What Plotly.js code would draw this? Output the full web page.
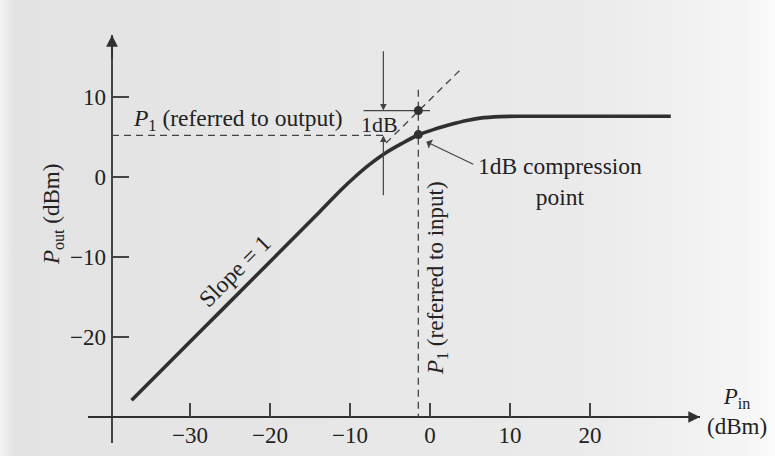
<!DOCTYPE html>
<html>
<head>
<meta charset="utf-8">
<script src="https://cdn.plot.ly/plotly-3.0.1.min.js"></script>
<style>
  html, body { margin: 0; padding: 0; }
  body {
    width: 775px; height: 456px; overflow: hidden;
    background: linear-gradient(to right, #f4f4f4 0px, #e3e3e3 14px, #e6e6e6 300px, #ebebeb 600px, #f5f5f5 745px, #fbfbfb 775px);
  }
  #chart { width: 775px; height: 456px; }
</style>
</head>
<body>
<div id="chart"></div>
<script>
// ---- data ----
const pinValues  = [-37.3, -28.5, -20, -13.75, -11.0, -9.4, -7.7, -5.8, -3.5, -1.46, 0.5, 2.9, 4.6, 6.25, 8.75, 12, 30.1];
const poutValues = [-27.9, -19.1, -10.6, -4.3, -1.5, 0.0, 1.45, 2.85, 4.2, 5.25, 5.95, 6.65, 7.07, 7.36, 7.55, 7.6, 7.6];

const extrapX = [-5.5, 4.0];       // dashed ideal (slope = 1) extension
const extrapY = [4.25, 13.6];

const p1In = -1.46;               // P1 referred to input (dBm)
const p1Out = 5.3;                // P1 referred to output (dBm)
const idealAtP1 = 8.3;            // extrapolated output at P1
const dbMarkerX = -5.83;          // position of the 1dB dimension arrows

const xTickVals = [-30, -20, -10, 0, 10, 20];
const yTickVals = [-20, -10, 0, 10];

const xAxisCross = -30;           // horizontal axis drawn at Pout = -30
const yAxisCross = -39.75;        // vertical axis drawn at Pin = -39.75
const xAxisSpan = [-42.75, 33.75];
const yAxisSpan = [-33.25, 17.75];

// ---- layout constants ----
const xRange = [-44, 36];
const yRange = [-34.5, 19];
const ink = '#303030';
const font = 'Liberation Serif, Times New Roman, serif';

const traces = [
  // axis lines
  { x: xAxisSpan, y: [xAxisCross, xAxisCross], mode: 'lines', line: {color: ink, width: 1.8}, hoverinfo: 'skip' },
  { x: [yAxisCross, yAxisCross], y: yAxisSpan, mode: 'lines', line: {color: ink, width: 1.8}, hoverinfo: 'skip' },
  // P1 referred to output (horizontal dashed)
  { x: [yAxisCross, dbMarkerX], y: [p1Out - 0.1, p1Out - 0.1], mode: 'lines', line: {color: '#444', width: 1.3, dash: '7px,5px'}, hoverinfo: 'skip' },
  // P1 referred to input (vertical dashed)
  { x: [p1In, p1In], y: [10.9, xAxisCross], mode: 'lines', line: {color: '#444', width: 1.3, dash: '7px,5px'}, hoverinfo: 'skip' },
  // ideal extrapolation
  { x: extrapX, y: extrapY, mode: 'lines', line: {color: '#444', width: 1.3, dash: '7px,5px'}, hoverinfo: 'skip' },
  // short solid reference line at ideal output
  { x: [-8.3, 0], y: [idealAtP1, idealAtP1], mode: 'lines', line: {color: '#444', width: 1.2}, hoverinfo: 'skip' },
  // the transfer curve
  { x: pinValues, y: poutValues, mode: 'lines', line: {color: ink, width: 3.6, shape: 'spline', smoothing: 1}, hoverinfo: 'skip' },
  // dots
  { x: [p1In, p1In], y: [p1Out, idealAtP1], mode: 'markers', marker: {color: ink, size: 9}, hoverinfo: 'skip' }
];

const txt = (size) => ({family: font, size: size, color: '#222222'});

const annotations = [
  // axis arrowheads
  { x: xAxisSpan[1], y: xAxisCross, ax: xAxisSpan[1] - 3, ay: xAxisCross, xref: 'x', yref: 'y', axref: 'x', ayref: 'y',
    text: '', showarrow: true, arrowhead: 2, arrowsize: 1.3, arrowwidth: 1.8, arrowcolor: ink },
  { x: yAxisCross, y: yAxisSpan[1], ax: yAxisCross, ay: yAxisSpan[1] - 3, xref: 'x', yref: 'y', axref: 'x', ayref: 'y',
    text: '', showarrow: true, arrowhead: 2, arrowsize: 1.3, arrowwidth: 1.8, arrowcolor: ink },
  // 1dB dimension arrows
  { x: dbMarkerX, y: idealAtP1, ax: dbMarkerX, ay: 15.9, xref: 'x', yref: 'y', axref: 'x', ayref: 'y',
    text: '', showarrow: true, arrowhead: 2, arrowsize: 1.1, arrowwidth: 1.2, arrowcolor: '#444' },
  { x: dbMarkerX, y: p1Out - 0.1, ax: dbMarkerX, ay: -2.46, xref: 'x', yref: 'y', axref: 'x', ayref: 'y',
    text: '', showarrow: true, arrowhead: 2, arrowsize: 1.1, arrowwidth: 1.2, arrowcolor: '#444' },
  // compression point pointer
  { x: p1In + 1.0, y: p1Out - 0.9, ax: 5.6, ay: 1.5, xref: 'x', yref: 'y', axref: 'x', ayref: 'y',
    text: '', showarrow: true, arrowhead: 1, arrowsize: 1.4, arrowwidth: 1.2, arrowcolor: '#444' },
  // labels
  { x: -24.0, y: 7.1, xref: 'x', yref: 'y', text: '<i>P</i><sub>1</sub> (referred to output)', showarrow: false, font: txt(23.5) },
  { x: -6.3, y: 6.55, xref: 'x', yref: 'y', text: '1dB', showarrow: false, font: txt(22) },
  { x: 16.25, y: -0.6, xref: 'x', yref: 'y', text: '1dB compression<br>point', showarrow: false, font: txt(23.5) },
  { x: -24.4, y: -11.8, xref: 'x', yref: 'y', text: 'Slope = 1', textangle: -45, showarrow: false, font: txt(23.5) },
  { x: 0.9, y: -12.6, xref: 'x', yref: 'y', text: '<i>P</i><sub>1</sub> (referred to input)', textangle: -90, showarrow: false, font: txt(23) },
  // axis titles
  { x: -0.039, y: 0.556, xref: 'paper', yref: 'paper', xanchor: 'center', yanchor: 'middle',
    text: '<i>P</i><sub>out</sub> (dBm)', textangle: -90, showarrow: false, font: txt(23) },
  { x: 1.0297, y: 0.0958, xref: 'paper', yref: 'paper', xanchor: 'center', yanchor: 'middle',
    text: '<i>P</i><sub>in</sub><br>(dBm)', showarrow: false, font: txt(23) }
];

const layout = {
  width: 775, height: 456,
  margin: {l: 78, r: 57, t: 25, b: 3},
  paper_bgcolor: 'rgba(0,0,0,0)', plot_bgcolor: 'rgba(0,0,0,0)',
  showlegend: false,
  xaxis: {
    range: xRange, anchor: 'free',
    position: (xAxisCross - yRange[0]) / (yRange[1] - yRange[0]),
    tickvals: xTickVals, ticks: 'inside', ticklen: 14, tickwidth: 1.3, tickcolor: '#444',
    showline: false, showgrid: false, zeroline: false,
    tickfont: txt(23), ticklabelstandoff: 2
  },
  yaxis: {
    range: yRange, anchor: 'free',
    position: (yAxisCross - xRange[0]) / (xRange[1] - xRange[0]),
    tickvals: yTickVals, ticks: 'inside', ticklen: 16, tickwidth: 1.3, tickcolor: '#444',
    showline: false, showgrid: false, zeroline: false,
    tickfont: txt(23), ticklabelstandoff: 6
  },
  annotations: annotations
};

Plotly.newPlot('chart', traces, layout, {staticPlot: true, displayModeBar: false});
</script>
</body>
</html>
